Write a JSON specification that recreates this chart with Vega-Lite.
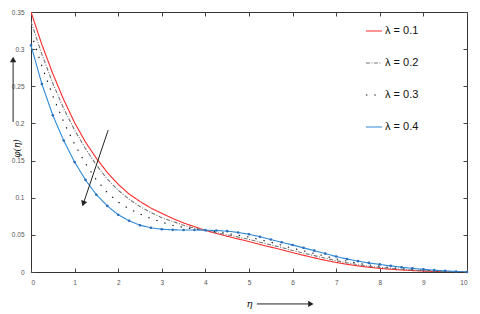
{
  "$schema": "https://vega.github.io/schema/vega-lite/v6.json",
  "width": 436,
  "height": 260,
  "autosize": {"type": "none"},
  "padding": {"left": 31, "top": 12, "right": 13, "bottom": 42},
  "background": "white",
  "config": {
    "view": {"stroke": "#333", "strokeWidth": 1},
    "axis": {"grid": false, "domain": false, "tickColor": "#444", "tickSize": 4, "offset": -4, "labelPadding": 7, "labelFont": "Liberation Sans", "labelFontSize": 6.5, "labelColor": "#555"}
  },
  "datasets": {
    "curves": [
      {"eta":0,"series":"λ = 0.1","phi":0.350},{"eta":0.25,"series":"λ = 0.1","phi":0.306},{"eta":0.5,"series":"λ = 0.1","phi":0.267},{"eta":0.75,"series":"λ = 0.1","phi":0.232},{"eta":1,"series":"λ = 0.1","phi":0.201},{"eta":1.25,"series":"λ = 0.1","phi":0.175},{"eta":1.5,"series":"λ = 0.1","phi":0.153},{"eta":1.75,"series":"λ = 0.1","phi":0.134},{"eta":2,"series":"λ = 0.1","phi":0.118},{"eta":2.25,"series":"λ = 0.1","phi":0.105},{"eta":2.5,"series":"λ = 0.1","phi":0.095},{"eta":2.75,"series":"λ = 0.1","phi":0.086},{"eta":3,"series":"λ = 0.1","phi":0.079},{"eta":3.25,"series":"λ = 0.1","phi":0.072},{"eta":3.5,"series":"λ = 0.1","phi":0.066},{"eta":3.75,"series":"λ = 0.1","phi":0.061},{"eta":4,"series":"λ = 0.1","phi":0.056},{"eta":4.25,"series":"λ = 0.1","phi":0.052},{"eta":4.5,"series":"λ = 0.1","phi":0.048},{"eta":4.75,"series":"λ = 0.1","phi":0.0445},{"eta":5,"series":"λ = 0.1","phi":0.041},{"eta":5.25,"series":"λ = 0.1","phi":0.037},{"eta":5.5,"series":"λ = 0.1","phi":0.0335},{"eta":5.75,"series":"λ = 0.1","phi":0.030},{"eta":6,"series":"λ = 0.1","phi":0.026},{"eta":6.25,"series":"λ = 0.1","phi":0.0225},{"eta":6.5,"series":"λ = 0.1","phi":0.019},{"eta":6.75,"series":"λ = 0.1","phi":0.0158},{"eta":7,"series":"λ = 0.1","phi":0.0128},{"eta":7.25,"series":"λ = 0.1","phi":0.0103},{"eta":7.5,"series":"λ = 0.1","phi":0.0082},{"eta":7.75,"series":"λ = 0.1","phi":0.0064},{"eta":8,"series":"λ = 0.1","phi":0.0049},{"eta":8.25,"series":"λ = 0.1","phi":0.0037},{"eta":8.5,"series":"λ = 0.1","phi":0.0027},{"eta":8.75,"series":"λ = 0.1","phi":0.0019},{"eta":9,"series":"λ = 0.1","phi":0.0012},{"eta":9.25,"series":"λ = 0.1","phi":0.0007},{"eta":9.5,"series":"λ = 0.1","phi":0.0004},{"eta":9.75,"series":"λ = 0.1","phi":0.0002},{"eta":10,"series":"λ = 0.1","phi":0},
      {"eta":0,"series":"λ = 0.2","phi":0.337},{"eta":0.25,"series":"λ = 0.2","phi":0.293},{"eta":0.5,"series":"λ = 0.2","phi":0.254},{"eta":0.75,"series":"λ = 0.2","phi":0.220},{"eta":1,"series":"λ = 0.2","phi":0.191},{"eta":1.25,"series":"λ = 0.2","phi":0.166},{"eta":1.5,"series":"λ = 0.2","phi":0.144},{"eta":1.75,"series":"λ = 0.2","phi":0.125},{"eta":2,"series":"λ = 0.2","phi":0.110},{"eta":2.25,"series":"λ = 0.2","phi":0.098},{"eta":2.5,"series":"λ = 0.2","phi":0.088},{"eta":2.75,"series":"λ = 0.2","phi":0.080},{"eta":3,"series":"λ = 0.2","phi":0.073},{"eta":3.25,"series":"λ = 0.2","phi":0.068},{"eta":3.5,"series":"λ = 0.2","phi":0.063},{"eta":3.75,"series":"λ = 0.2","phi":0.059},{"eta":4,"series":"λ = 0.2","phi":0.056},{"eta":4.25,"series":"λ = 0.2","phi":0.053},{"eta":4.5,"series":"λ = 0.2","phi":0.050},{"eta":4.75,"series":"λ = 0.2","phi":0.047},{"eta":5,"series":"λ = 0.2","phi":0.044},{"eta":5.25,"series":"λ = 0.2","phi":0.040},{"eta":5.5,"series":"λ = 0.2","phi":0.0365},{"eta":5.75,"series":"λ = 0.2","phi":0.033},{"eta":6,"series":"λ = 0.2","phi":0.029},{"eta":6.25,"series":"λ = 0.2","phi":0.0255},{"eta":6.5,"series":"λ = 0.2","phi":0.022},{"eta":6.75,"series":"λ = 0.2","phi":0.0185},{"eta":7,"series":"λ = 0.2","phi":0.0152},{"eta":7.25,"series":"λ = 0.2","phi":0.0123},{"eta":7.5,"series":"λ = 0.2","phi":0.0098},{"eta":7.75,"series":"λ = 0.2","phi":0.0078},{"eta":8,"series":"λ = 0.2","phi":0.0062},{"eta":8.25,"series":"λ = 0.2","phi":0.0048},{"eta":8.5,"series":"λ = 0.2","phi":0.0036},{"eta":8.75,"series":"λ = 0.2","phi":0.0026},{"eta":9,"series":"λ = 0.2","phi":0.0018},{"eta":9.25,"series":"λ = 0.2","phi":0.0011},{"eta":9.5,"series":"λ = 0.2","phi":0.0006},{"eta":9.75,"series":"λ = 0.2","phi":0.0003},{"eta":10,"series":"λ = 0.2","phi":0},
      {"eta":0,"series":"λ = 0.3","phi":0.322},{"eta":0.25,"series":"λ = 0.3","phi":0.277},{"eta":0.5,"series":"λ = 0.3","phi":0.237},{"eta":0.75,"series":"λ = 0.3","phi":0.202},{"eta":1,"series":"λ = 0.3","phi":0.172},{"eta":1.25,"series":"λ = 0.3","phi":0.146},{"eta":1.5,"series":"λ = 0.3","phi":0.124},{"eta":1.75,"series":"λ = 0.3","phi":0.107},{"eta":2,"series":"λ = 0.3","phi":0.094},{"eta":2.25,"series":"λ = 0.3","phi":0.085},{"eta":2.5,"series":"λ = 0.3","phi":0.078},{"eta":2.75,"series":"λ = 0.3","phi":0.072},{"eta":3,"series":"λ = 0.3","phi":0.067},{"eta":3.25,"series":"λ = 0.3","phi":0.063},{"eta":3.5,"series":"λ = 0.3","phi":0.060},{"eta":3.75,"series":"λ = 0.3","phi":0.058},{"eta":4,"series":"λ = 0.3","phi":0.056},{"eta":4.25,"series":"λ = 0.3","phi":0.054},{"eta":4.5,"series":"λ = 0.3","phi":0.052},{"eta":4.75,"series":"λ = 0.3","phi":0.0495},{"eta":5,"series":"λ = 0.3","phi":0.047},{"eta":5.25,"series":"λ = 0.3","phi":0.0435},{"eta":5.5,"series":"λ = 0.3","phi":0.040},{"eta":5.75,"series":"λ = 0.3","phi":0.036},{"eta":6,"series":"λ = 0.3","phi":0.032},{"eta":6.25,"series":"λ = 0.3","phi":0.0285},{"eta":6.5,"series":"λ = 0.3","phi":0.025},{"eta":6.75,"series":"λ = 0.3","phi":0.0212},{"eta":7,"series":"λ = 0.3","phi":0.0176},{"eta":7.25,"series":"λ = 0.3","phi":0.0145},{"eta":7.5,"series":"λ = 0.3","phi":0.0118},{"eta":7.75,"series":"λ = 0.3","phi":0.0095},{"eta":8,"series":"λ = 0.3","phi":0.0077},{"eta":8.25,"series":"λ = 0.3","phi":0.006},{"eta":8.5,"series":"λ = 0.3","phi":0.0046},{"eta":8.75,"series":"λ = 0.3","phi":0.0034},{"eta":9,"series":"λ = 0.3","phi":0.0025},{"eta":9.25,"series":"λ = 0.3","phi":0.0016},{"eta":9.5,"series":"λ = 0.3","phi":0.001},{"eta":9.75,"series":"λ = 0.3","phi":0.0005},{"eta":10,"series":"λ = 0.3","phi":0},
      {"eta":0,"series":"λ = 0.4","phi":0.305},{"eta":0.25,"series":"λ = 0.4","phi":0.253},{"eta":0.5,"series":"λ = 0.4","phi":0.211},{"eta":0.75,"series":"λ = 0.4","phi":0.177},{"eta":1,"series":"λ = 0.4","phi":0.148},{"eta":1.25,"series":"λ = 0.4","phi":0.124},{"eta":1.5,"series":"λ = 0.4","phi":0.104},{"eta":1.75,"series":"λ = 0.4","phi":0.089},{"eta":2,"series":"λ = 0.4","phi":0.077},{"eta":2.25,"series":"λ = 0.4","phi":0.069},{"eta":2.5,"series":"λ = 0.4","phi":0.063},{"eta":2.75,"series":"λ = 0.4","phi":0.0595},{"eta":3,"series":"λ = 0.4","phi":0.0575},{"eta":3.25,"series":"λ = 0.4","phi":0.0568},{"eta":3.5,"series":"λ = 0.4","phi":0.0565},{"eta":3.75,"series":"λ = 0.4","phi":0.0565},{"eta":4,"series":"λ = 0.4","phi":0.0563},{"eta":4.25,"series":"λ = 0.4","phi":0.0558},{"eta":4.5,"series":"λ = 0.4","phi":0.055},{"eta":4.75,"series":"λ = 0.4","phi":0.0532},{"eta":5,"series":"λ = 0.4","phi":0.0508},{"eta":5.25,"series":"λ = 0.4","phi":0.0475},{"eta":5.5,"series":"λ = 0.4","phi":0.0437},{"eta":5.75,"series":"λ = 0.4","phi":0.0400},{"eta":6,"series":"λ = 0.4","phi":0.0363},{"eta":6.25,"series":"λ = 0.4","phi":0.0325},{"eta":6.5,"series":"λ = 0.4","phi":0.0287},{"eta":6.75,"series":"λ = 0.4","phi":0.0247},{"eta":7,"series":"λ = 0.4","phi":0.0208},{"eta":7.25,"series":"λ = 0.4","phi":0.0175},{"eta":7.5,"series":"λ = 0.4","phi":0.0146},{"eta":7.75,"series":"λ = 0.4","phi":0.0122},{"eta":8,"series":"λ = 0.4","phi":0.0102},{"eta":8.25,"series":"λ = 0.4","phi":0.0082},{"eta":8.5,"series":"λ = 0.4","phi":0.0064},{"eta":8.75,"series":"λ = 0.4","phi":0.0049},{"eta":9,"series":"λ = 0.4","phi":0.0036},{"eta":9.25,"series":"λ = 0.4","phi":0.0025},{"eta":9.5,"series":"λ = 0.4","phi":0.0015},{"eta":9.75,"series":"λ = 0.4","phi":0.0007},{"eta":10,"series":"λ = 0.4","phi":0}
    ],
    "arrows": [
      {"name": "trend", "eta0": 1.77, "phi0": 0.191, "eta1": 1.2, "phi1": 0.092},
      {"name": "yaxis", "eta0": -0.41, "phi0": 0.202, "eta1": -0.41, "phi1": 0.286},
      {"name": "xaxis", "eta0": 5.18, "phi0": -0.043, "eta1": 6.42, "phi1": -0.043}
    ]
  },
  "layer": [
    {
      "data": {"name": "curves"},
      "mark": {"type": "line", "strokeWidth": 1.1, "clip": true},
      "encoding": {
        "x": {"field": "eta", "type": "quantitative", "scale": {"domain": [0, 10], "nice": false},
              "axis": {"orient": "bottom", "values": [0,1,2,3,4,5,6,7,8,9,10], "title": "η", "titleFont": "DejaVu Serif", "titleFontStyle": "italic", "titleFontWeight": "normal", "titleFontSize": 10, "titleColor": "#111", "titlePadding": 13, "titleX": 218}},
        "y": {"field": "phi", "type": "quantitative", "scale": {"domain": [0, 0.35], "nice": false},
              "axis": {"orient": "left", "values": [0,0.05,0.1,0.15,0.2,0.25,0.3,0.35], "format": "~g", "title": "φ(η)", "titleFont": "DejaVu Serif", "titleFontStyle": "italic", "titleFontWeight": "normal", "titleFontSize": 9, "titleColor": "#111", "titleAngle": -90, "titleAlign": "center", "titleBaseline": "middle", "titleX": -19, "titleY": 136}},
        "color": {"field": "series", "type": "nominal",
                  "scale": {"domain": ["λ = 0.1","λ = 0.2","λ = 0.3","λ = 0.4"], "range": ["#ff2a2a","#777777","#111111","#2f8ad8"]},
                  "legend": {"title": null, "orient": "none", "legendX": 334, "legendY": 10, "symbolType": "stroke", "symbolSize": 260, "symbolStrokeWidth": 1.2, "labelFont": "Liberation Sans", "labelFontSize": 11, "labelColor": "#111", "rowPadding": 18, "labelOffset": 2}},
        "strokeDash": {"field": "series", "type": "nominal",
                  "scale": {"domain": ["λ = 0.1","λ = 0.2","λ = 0.3","λ = 0.4"], "range": [[1,0],[4,1.5,1,1.5],[1.4,7],[1,0]]},
                  "legend": {"title": null, "orient": "none", "legendX": 334, "legendY": 10, "symbolType": "stroke", "symbolSize": 260, "symbolStrokeWidth": 1.2, "labelFont": "Liberation Sans", "labelFontSize": 11, "labelColor": "#111", "rowPadding": 18, "labelOffset": 2}},
        "strokeWidth": {"condition": {"test": "datum.series === 'λ = 0.3'", "value": 1.6}, "value": 1}
      }
    },
    {
      "data": {"name": "curves"},
      "transform": [{"filter": "datum.series === 'λ = 0.4'"}],
      "mark": {"type": "point", "filled": true, "size": 7, "color": "#2f6fb8", "opacity": 1},
      "encoding": {
        "x": {"field": "eta", "type": "quantitative", "axis": {"orient": "top", "values": [0,1,2,3,4,5,6,7,8,9,10], "labels": false, "title": null}},
        "y": {"field": "phi", "type": "quantitative", "axis": {"orient": "right", "values": [0,0.05,0.1,0.15,0.2,0.25,0.3,0.35], "labels": false, "title": null}}
      }
    },
    {
      "data": {"name": "arrows"},
      "mark": {"type": "rule", "color": "#222", "strokeWidth": 1},
      "encoding": {
        "x": {"field": "eta0", "type": "quantitative", "axis": null},
        "y": {"field": "phi0", "type": "quantitative", "axis": null},
        "x2": {"field": "eta1"},
        "y2": {"field": "phi1"}
      }
    },
    {
      "data": {"name": "arrows"},
      "transform": [{"filter": "datum.name === 'trend'"}],
      "mark": {"type": "point", "shape": "triangle-up", "filled": true, "color": "#222", "size": 40, "angle": 198, "opacity": 1},
      "encoding": {
        "x": {"field": "eta1", "type": "quantitative", "axis": null},
        "y": {"field": "phi1", "type": "quantitative", "axis": null}
      }
    },
    {
      "data": {"name": "arrows"},
      "transform": [{"filter": "datum.name === 'yaxis'"}],
      "mark": {"type": "point", "shape": "triangle-up", "filled": true, "color": "#222", "size": 40, "angle": 0, "opacity": 1},
      "encoding": {
        "x": {"field": "eta1", "type": "quantitative", "axis": null},
        "y": {"field": "phi1", "type": "quantitative", "axis": null}
      }
    },
    {
      "data": {"name": "arrows"},
      "transform": [{"filter": "datum.name === 'xaxis'"}],
      "mark": {"type": "point", "shape": "triangle-up", "filled": true, "color": "#222", "size": 40, "angle": 90, "opacity": 1},
      "encoding": {
        "x": {"field": "eta1", "type": "quantitative", "axis": null},
        "y": {"field": "phi1", "type": "quantitative", "axis": null}
      }
    }
  ],
  "resolve": {"axis": {"x": "independent", "y": "independent"}}
}
